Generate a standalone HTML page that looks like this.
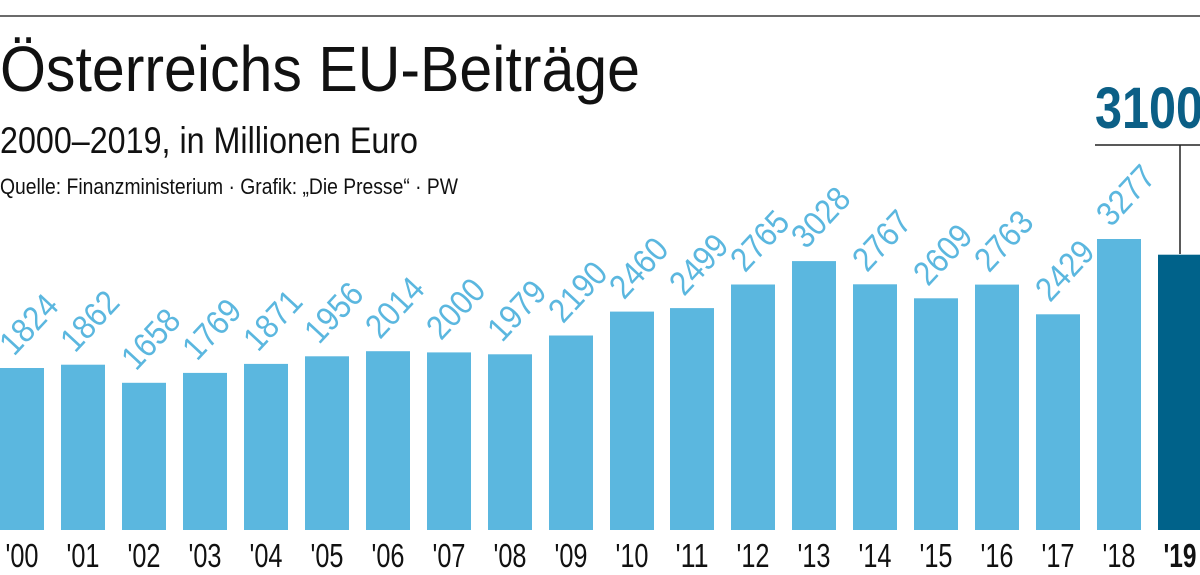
<!DOCTYPE html>
<html><head><meta charset="utf-8"><style>
html,body{margin:0;padding:0;background:#fff;width:1200px;height:575px;overflow:hidden}
svg{display:block}
text{font-family:"Liberation Sans Narrow","Liberation Sans",sans-serif}
</style></head><body>
<svg width="1200" height="575" viewBox="0 0 1200 575" xmlns="http://www.w3.org/2000/svg">
<rect width="1200" height="575" fill="#fff"/>
<line x1="0" y1="16" x2="1200" y2="16" stroke="#3a3a3a" stroke-width="1.6"/>
<text x="0" y="91" font-size="64" fill="#111" textLength="640" lengthAdjust="spacingAndGlyphs">Österreichs EU-Beiträge</text>
<text x="0" y="153" font-size="37" fill="#111" textLength="418" lengthAdjust="spacingAndGlyphs">2000–2019, in Millionen Euro</text>
<text x="0" y="194" font-size="22" fill="#111" textLength="458" lengthAdjust="spacingAndGlyphs">Quelle: Finanzministerium · Grafik: „Die Presse“ · PW</text>
<g id="bars"></g>
<line x1="1095" y1="145" x2="1200" y2="145" stroke="#222" stroke-width="1.5"/>
<line x1="1180" y1="145" x2="1180" y2="254" stroke="#222" stroke-width="1.5"/>
<text x="1095" y="128" font-size="58" font-weight="bold" fill="#0b5f86" textLength="108" lengthAdjust="spacingAndGlyphs">3100</text>
</svg>
<script>
var v=[1824,1862,1658,1769,1871,1956,2014,2000,1979,2190,2460,2499,2765,3028,2767,2609,2763,2429,3277,3100];
var g=document.getElementById('bars'),s='';
for(var i=0;i<20;i++){
 var x=Math.round(i*60.95),h=v[i]*0.0888,t=530-h,last=i==19;
 s+='<rect x="'+x+'" y="'+t.toFixed(1)+'" width="'+(last?42:44)+'" height="'+h.toFixed(1)+'" fill="'+(last?'#00628a':'#5bb7df')+'"/>';
 if(!last){var lx=x+14,ly=t-11;
 s+='<text x="'+lx+'" y="'+ly.toFixed(1)+'" font-size="34" fill="#5bb7df" transform="rotate(-47 '+lx+' '+ly.toFixed(1)+')" textLength="68" lengthAdjust="spacingAndGlyphs">'+v[i]+'</text>';}
 var yr="'"+String(i).padStart(2,'0');
 s+='<text x="'+(x+22)+'" y="567" font-size="33" text-anchor="middle" fill="#111"'+(last?' font-weight="bold"':'')+' textLength="33" lengthAdjust="spacingAndGlyphs">'+yr+'</text>';
}
g.innerHTML=s;
</script>
</body></html>
